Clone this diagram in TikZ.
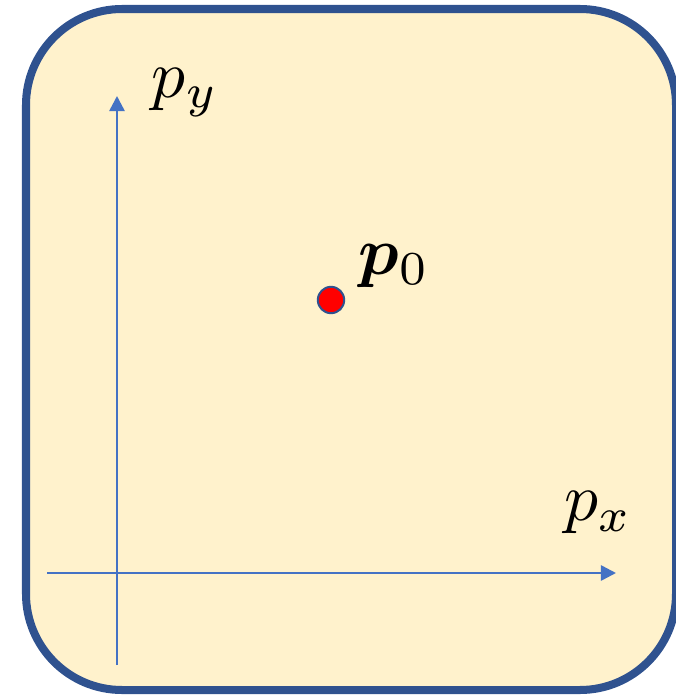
\documentclass[tikz,border=0pt]{standalone}
\usepackage{graphicx}
\usepackage{bm}
\usetikzlibrary{arrows.meta}
\definecolor{panelfill}{HTML}{FFF2CC}
\definecolor{panelline}{HTML}{2F528F}
\definecolor{axisblue}{HTML}{4472C4}
\newcommand{\biglbl}[1]{\scalebox{4.8}{#1}}

\begin{document}
\begin{tikzpicture}[x=0.025cm,y=-0.025cm,>={Triangle[length=0.38cm,width=0.38cm]}]
  \tikzstyle{axis}=[axisblue,line width=1.8pt,->]
  \tikzstyle{lbl}=[inner sep=0pt]
  \useasboundingbox (0,0) rectangle (676,697);
  \clip (0,0) rectangle (676,697);
  \draw[panelline,fill=panelfill,line width=5.7pt,rounded corners=2.4cm] (26,9) rectangle (676,690);
  % axes
  \coordinate (xs) at (47,573);
  \coordinate (xe) at (616,573);
  \coordinate (ys) at (117,665);
  \coordinate (ye) at (117,96);
  \draw[axis] (xs) -- (xe);
  \draw[axis] (ys) -- (ye);
  \node[lbl] (pylab) at (185,93) {\biglbl{$p_y$}};
  \node[lbl] (pxlab) at (598,513) {\biglbl{$p_x$}};
  % point
  \node[circle,draw=panelline,fill=red,line width=1.4pt,minimum size=0.66cm,inner sep=0pt] (p0) at (331,300) {};
  \node[lbl] (p0lab) at (394,266) {\biglbl{$\bm{p}_0$}};
\end{tikzpicture}
\end{document}
